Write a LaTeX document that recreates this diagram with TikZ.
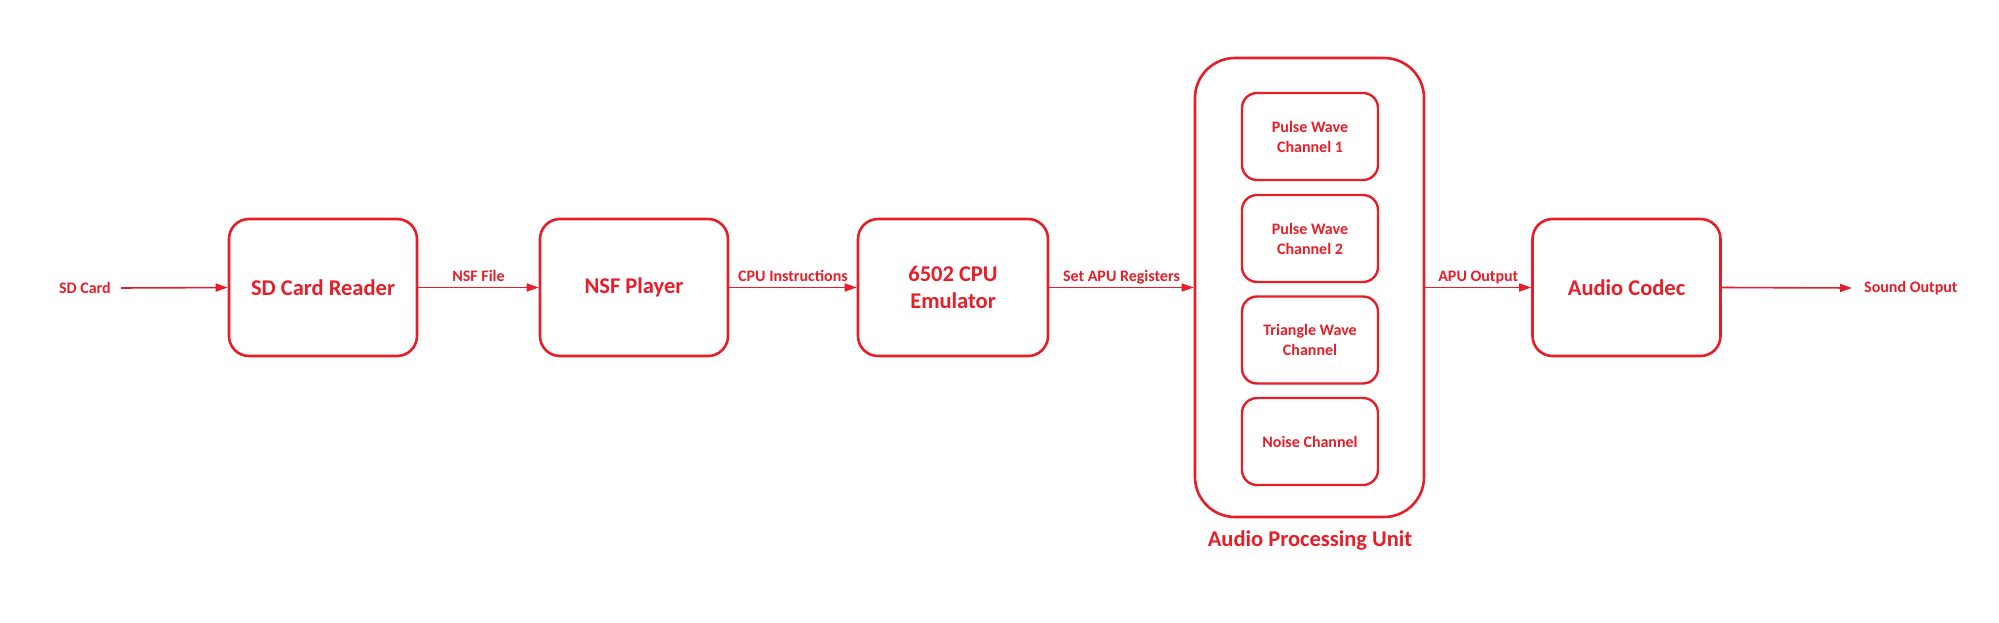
\documentclass[tikz,border=0pt]{standalone}
\usepackage{fontspec}
\setmainfont{Carlito}
\usetikzlibrary{arrows.meta}
\definecolor{dred}{RGB}{230,30,40}
\begin{document}
\begin{tikzpicture}[x=1pt,y=-1pt,
  every node/.style={text=dred, font=\bfseries},
  bigbox/.style={draw=dred, line width=2.6pt, rounded corners=20pt, minimum width=188pt, minimum height=137pt, align=center, inner sep=0pt, font=\fontsize{22.5}{27}\selectfont\bfseries},
  chbox/.style={draw=dred, line width=2.4pt, rounded corners=15pt, minimum width=136pt, minimum height=87pt, align=center, inner sep=0pt, font=\fontsize{16}{20}\selectfont\bfseries},
  lbl/.style={font=\fontsize{16}{20}\selectfont\bfseries, inner sep=0pt},
  conn/.style={draw=dred, line width=1.6pt, -{Triangle[length=12pt,width=8pt]}},
]
\useasboundingbox (0,0) rectangle (1999,623);
\node[lbl, anchor=east] (sd) at (111,288) {SD Card};
\node[bigbox] (reader) at (323,287.5) {SD Card Reader};
\node[bigbox] (nsf) at (634,287.5) {NSF Player};
\node[bigbox, minimum width=190pt] (cpu) at (953,287.5) {6502 CPU\\Emulator};
\node[draw=dred, line width=2.6pt, rounded corners=40pt, minimum width=229pt, minimum height=459pt, inner sep=0pt] (apu) at (1309.5,287.5) {};
\node[chbox] (p1) at (1310,136.5) {Pulse Wave\\Channel 1};
\node[chbox] (p2) at (1310,238.5) {Pulse Wave\\Channel 2};
\node[chbox] (tri) at (1310,340) {Triangle Wave\\Channel};
\node[chbox] (noise) at (1310,441.5) {Noise Channel};
\node[font=\fontsize{22.5}{27}\selectfont\bfseries, anchor=north, inner sep=0pt] (apulbl) at (1310,531) {Audio Processing Unit};
\node[bigbox] (codec) at (1626.5,287.5) {Audio Codec};
\node[lbl, anchor=west] (snd) at (1864,288) {Sound Output};
\coordinate (sdstart) at (121,288);
\coordinate (sndend) at (1852,288);

\draw[conn] (sdstart) -- (reader.west);
\draw[conn] (reader.east) -- node[lbl, anchor=base, yshift=6pt] {NSF File} (nsf.west);
\draw[conn] (nsf.east) -- node[lbl, anchor=base, yshift=6pt] {CPU Instructions} (cpu.west);
\draw[conn] (cpu.east) -- node[lbl, anchor=base, yshift=6pt] {Set APU Registers} (apu.west);
\draw[conn] (apu.east) -- node[lbl, anchor=base, yshift=6pt] {APU Output} (codec.west);
\draw[conn] (codec.east) -- (sndend);
\end{tikzpicture}
\end{document}
